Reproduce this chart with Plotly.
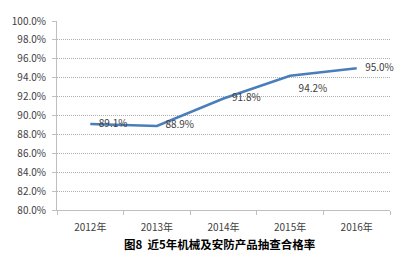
import plotly.graph_objects as go

years = ["2012年", "2013年", "2014年", "2015年", "2016年"]
rates = [89.1, 88.9, 91.8, 94.2, 95.0]
label_pos = ["middle right", "middle right", "middle right", "bottom right", "middle right"]
title_text = "图8  近5年机械及安防产品抽查合格率"

FONT = "Noto Sans CJK SC, Noto Sans, DejaVu Sans, sans-serif"

fig = go.Figure()
fig.add_trace(go.Scatter(
    x=years, y=rates, mode="lines+markers+text",
    line=dict(color="#4A7EBB", width=2.5),
    marker=dict(size=12, color="rgba(0,0,0,0)"),
    text=[f"{v:.1f}%" for v in rates],
    textposition=label_pos,
    textfont=dict(family=FONT, size=10, color="#404040"),
    cliponaxis=False,
    showlegend=False,
))

fig.update_layout(
    width=402, height=270,
    margin=dict(l=52, r=12, t=17, b=60),
    paper_bgcolor="white", plot_bgcolor="white",
    font=dict(family=FONT, size=10, color="#404040"),
    annotations=[dict(
        text="<b>" + title_text + "</b>", x=0.49, xref="paper", xanchor="center",
        y=-(245 - 210) / 193, yref="paper", yanchor="middle", showarrow=False,
        font=dict(family=FONT, size=11.5, color="#000000"),
    )],
)

fig.update_xaxes(
    range=[-0.5, 4.5],
    showgrid=False, showline=True, linecolor="#BFBFBF", linewidth=1,
    ticks="outside", ticklen=4, tickcolor="#BFBFBF", tickson="boundaries",
    ticklabelstandoff=8,
    tickfont=dict(family=FONT, size=10, color="#404040"),
)
fig.update_yaxes(
    range=[80, 100], dtick=2, tickformat=".1f", ticksuffix="%",
    showgrid=True, gridcolor="#B0B0B0", griddash="1px,1px", gridwidth=1,
    showline=True, linecolor="#BFBFBF", linewidth=1,
    ticks="outside", ticklen=4, tickcolor="#BFBFBF",
    ticklabelstandoff=4,
    tickfont=dict(family=FONT, size=10, color="#404040"),
    zeroline=False,
)

fig.write_html("out.html")
